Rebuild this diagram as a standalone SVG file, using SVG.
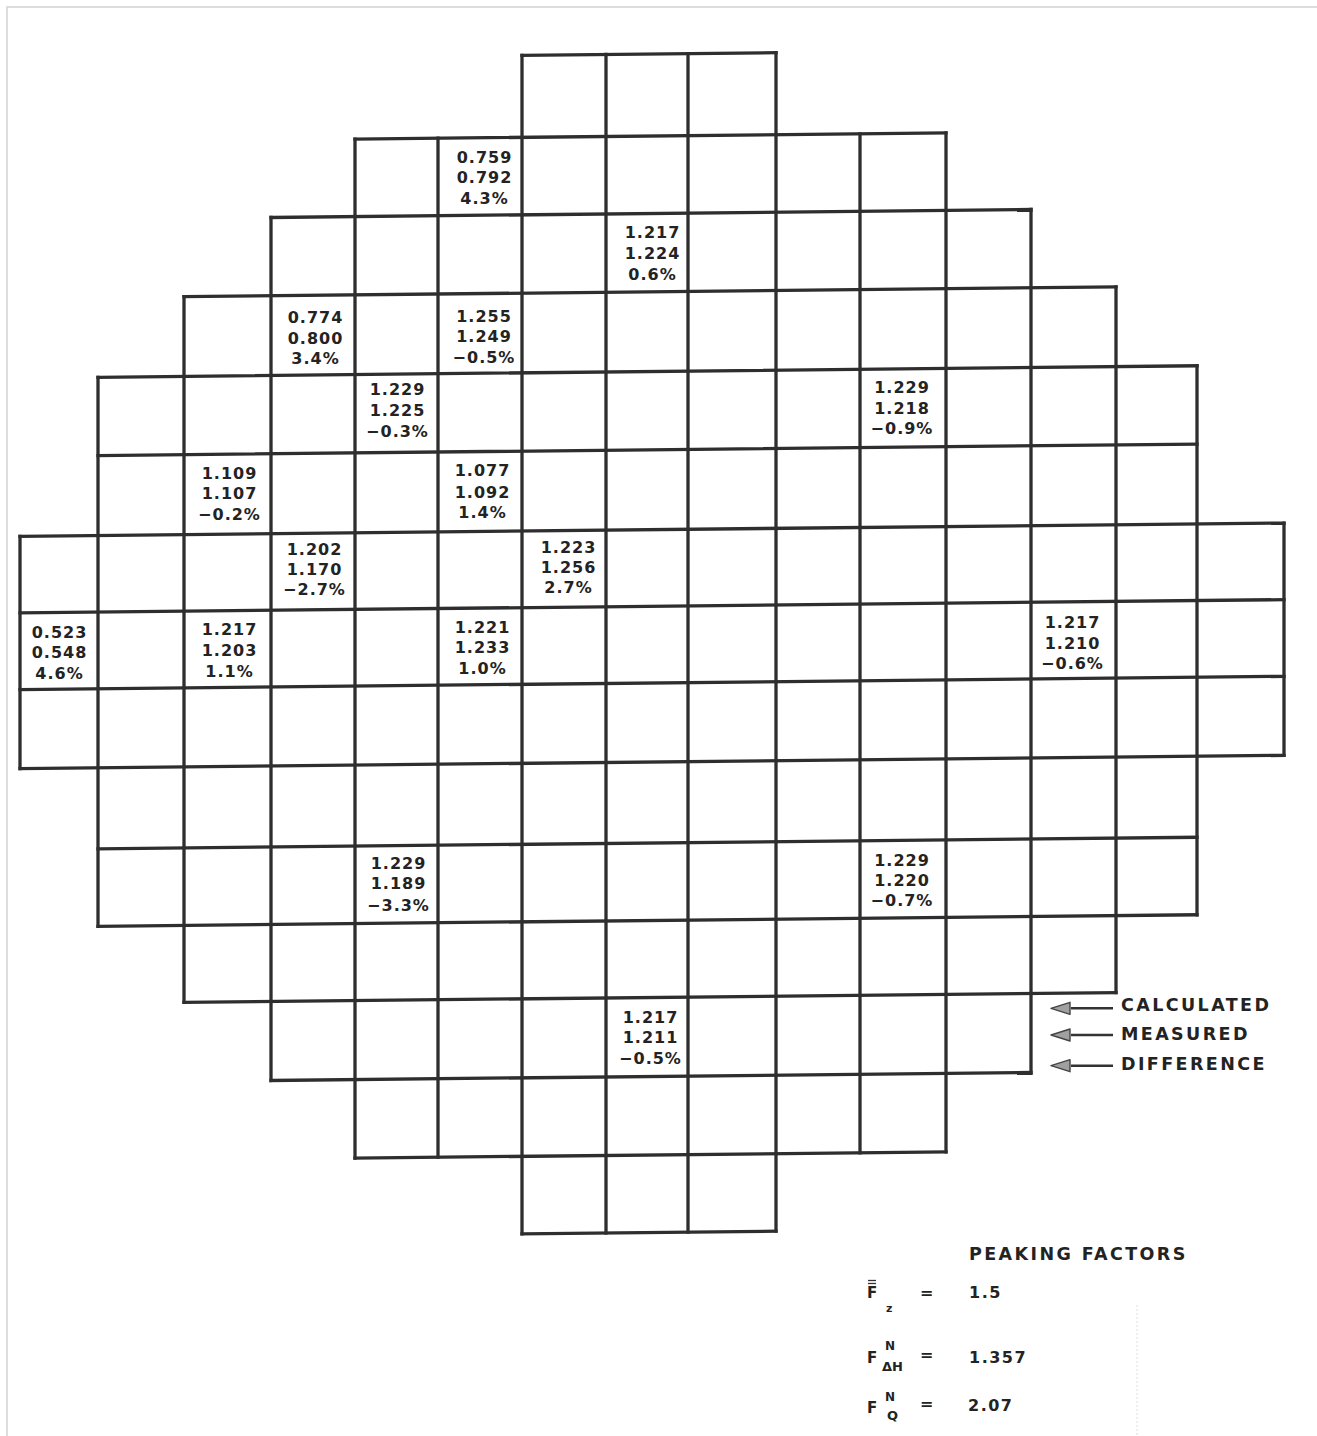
<svg xmlns="http://www.w3.org/2000/svg" width="1317" height="1436" viewBox="0 0 1317 1436">
<style>
.bg{fill:#ffffff}
.frame{fill:none;stroke:#d2d2d2;stroke-width:1.5}
.grid line{stroke:#2e2e2e;stroke-width:3.3;stroke-linecap:square}
.v{font-family:"DejaVu Sans","Liberation Sans",sans-serif;font-weight:bold;font-size:16px;fill:#232323;text-anchor:middle;letter-spacing:1px}
.lg{font-family:"DejaVu Sans","Liberation Sans",sans-serif;font-weight:bold;font-size:17.5px;fill:#232323;letter-spacing:2.4px}
.pf{font-family:"DejaVu Sans","Liberation Sans",sans-serif;font-weight:bold;fill:#232323}
.arr{stroke:#333;stroke-width:2.5;fill:none}
</style>
<defs>
<marker id="ah" viewBox="0 0 24 16" refX="2" refY="8" markerWidth="24" markerHeight="16" markerUnits="userSpaceOnUse" orient="auto">
<path d="M22,8 L3,2 V14 Z" fill="#a0a0a0" stroke="#444" stroke-width="1.4" stroke-linejoin="round"/>
</marker>
</defs>
<rect class="bg" x="0" y="0" width="1317" height="1436"/>
<path class="frame" d="M7,1436 V7 H1317"/>
<line x1="1137" y1="1305" x2="1137" y2="1436" stroke="#dcdcdc" stroke-width="1" stroke-dasharray="2 2"/>

<g id="grid" class="grid" transform="matrix(1,-0.0105,0,1,0,6.825)">
<line x1="522" y1="54" x2="776" y2="54"/>
<line x1="355" y1="136" x2="946" y2="136"/>
<line x1="271" y1="213.5" x2="1031" y2="213.5"/>
<line x1="184" y1="291.8" x2="1116" y2="291.8"/>
<line x1="98" y1="371.5" x2="1197" y2="371.5"/>
<line x1="98" y1="449.8" x2="1197" y2="449.8"/>
<line x1="20" y1="529.7" x2="1284" y2="529.7"/>
<line x1="20" y1="606.3" x2="1284" y2="606.3"/>
<line x1="20" y1="683" x2="1284" y2="683"/>
<line x1="20" y1="762" x2="1284" y2="762"/>
<line x1="98" y1="843" x2="1197" y2="843"/>
<line x1="98" y1="920.5" x2="1197" y2="920.5"/>
<line x1="184" y1="997.5" x2="1116" y2="997.5"/>
<line x1="271" y1="1076.5" x2="1031" y2="1076.5"/>
<line x1="355" y1="1155" x2="946" y2="1155"/>
<line x1="522" y1="1232.5" x2="776" y2="1232.5"/>
<line x1="20" y1="529.7" x2="20" y2="762"/>
<line x1="98" y1="371.5" x2="98" y2="920.5"/>
<line x1="184" y1="291.8" x2="184" y2="997.5"/>
<line x1="271" y1="213.5" x2="271" y2="1076.5"/>
<line x1="355" y1="136" x2="355" y2="1155"/>
<line x1="438" y1="136" x2="438" y2="1155"/>
<line x1="522" y1="54" x2="522" y2="1232.5"/>
<line x1="606" y1="54" x2="606" y2="1232.5"/>
<line x1="688" y1="54" x2="688" y2="1232.5"/>
<line x1="776" y1="54" x2="776" y2="1232.5"/>
<line x1="860" y1="136" x2="860" y2="1155"/>
<line x1="946" y1="136" x2="946" y2="1155"/>
<line x1="1031" y1="213.5" x2="1031" y2="1076.5"/>
<line x1="1116" y1="291.8" x2="1116" y2="997.5"/>
<line x1="1197" y1="371.5" x2="1197" y2="920.5"/>
<line x1="1284" y1="529.7" x2="1284" y2="762"/>
</g>

<g id="cell-r1-c5"><text class="v" x="484.5" y="162.7">0.759</text><text class="v" x="484.5" y="183.3">0.792</text><text class="v" x="484.5" y="204.3">4.3%</text></g>
<g id="cell-r2-c7"><text class="v" x="652.5" y="237.7">1.217</text><text class="v" x="652.5" y="259.3">1.224</text><text class="v" x="652.5" y="280.3">0.6%</text></g>
<g id="cell-r3-c3"><text class="v" x="315.5" y="322.7">0.774</text><text class="v" x="315.5" y="343.5">0.800</text><text class="v" x="315.5" y="364.3">3.4%</text></g>
<g id="cell-r3-c5"><text class="v" x="484" y="322">1.255</text><text class="v" x="484" y="342.3">1.249</text><text class="v" x="484" y="362.7">−0.5%</text></g>
<g id="cell-r4-c4"><text class="v" x="397.5" y="395.3">1.229</text><text class="v" x="397.5" y="416">1.225</text><text class="v" x="397.5" y="436.7">−0.3%</text></g>
<g id="cell-r4-c10"><text class="v" x="902" y="392.7">1.229</text><text class="v" x="902" y="414.3">1.218</text><text class="v" x="902" y="434.3">−0.9%</text></g>
<g id="cell-r5-c2"><text class="v" x="229.5" y="478.7">1.109</text><text class="v" x="229.5" y="499.3">1.107</text><text class="v" x="229.5" y="520">−0.2%</text></g>
<g id="cell-r5-c5"><text class="v" x="482.5" y="476">1.077</text><text class="v" x="482.5" y="497.7">1.092</text><text class="v" x="482.5" y="518.3">1.4%</text></g>
<g id="cell-r6-c3"><text class="v" x="314.5" y="555">1.202</text><text class="v" x="314.5" y="575">1.170</text><text class="v" x="314.5" y="595.3">−2.7%</text></g>
<g id="cell-r6-c6"><text class="v" x="568.5" y="552.7">1.223</text><text class="v" x="568.5" y="572.7">1.256</text><text class="v" x="568.5" y="593.3">2.7%</text></g>
<g id="cell-r7-c0"><text class="v" x="59.5" y="637.7">0.523</text><text class="v" x="59.5" y="658.3">0.548</text><text class="v" x="59.5" y="679.3">4.6%</text></g>
<g id="cell-r7-c2"><text class="v" x="229.5" y="635.3">1.217</text><text class="v" x="229.5" y="656">1.203</text><text class="v" x="229.5" y="676.7">1.1%</text></g>
<g id="cell-r7-c5"><text class="v" x="482.5" y="632.7">1.221</text><text class="v" x="482.5" y="653.3">1.233</text><text class="v" x="482.5" y="674.3">1.0%</text></g>
<g id="cell-r7-c12"><text class="v" x="1072.5" y="627.7">1.217</text><text class="v" x="1072.5" y="648.7">1.210</text><text class="v" x="1072.5" y="669.3">−0.6%</text></g>
<g id="cell-r10-c4"><text class="v" x="398.5" y="869.3">1.229</text><text class="v" x="398.5" y="889.3">1.189</text><text class="v" x="398.5" y="911">−3.3%</text></g>
<g id="cell-r10-c10"><text class="v" x="902" y="866">1.229</text><text class="v" x="902" y="886">1.220</text><text class="v" x="902" y="906">−0.7%</text></g>
<g id="cell-r12-c7"><text class="v" x="650.5" y="1022.7">1.217</text><text class="v" x="650.5" y="1043.3">1.211</text><text class="v" x="650.5" y="1064.3">−0.5%</text></g>

<g id="connectors">
<line class="arr" x1="1113" y1="1008.3" x2="1071" y2="1008.3" marker-end="url(#ah)"/>
<line class="arr" x1="1113" y1="1035" x2="1071" y2="1035" marker-end="url(#ah)"/>
<line class="arr" x1="1113" y1="1065.7" x2="1071" y2="1065.7" marker-end="url(#ah)"/>
</g>
<g id="legend">
<text class="lg" x="1121" y="1011.3">CALCULATED</text>
<text class="lg" x="1121" y="1039.6">MEASURED</text>
<text class="lg" x="1121" y="1069.6">DIFFERENCE</text>
</g>

<g id="peaking-factors">
<text class="lg" x="969" y="1259.6">PEAKING FACTORS</text>
<text class="pf" x="867" y="1298.3" font-size="15">F</text>
<line x1="868" y1="1280.5" x2="876" y2="1280.5" stroke="#333" stroke-width="1.3"/>
<line x1="868" y1="1283.5" x2="876" y2="1283.5" stroke="#333" stroke-width="1.3"/>
<text class="pf" x="886" y="1311.5" font-size="11">z</text>
<text class="pf" x="920" y="1298.4" font-size="16">=</text>
<text class="pf" x="969" y="1298.3" font-size="16" letter-spacing="1.5">1.5</text>
<text class="pf" x="867" y="1362.5" font-size="15">F</text>
<text class="pf" x="885" y="1349.8" font-size="12">N</text>
<text class="pf" x="882" y="1371.3" font-size="13">ΔH</text>
<text class="pf" x="920" y="1360.4" font-size="16">=</text>
<text class="pf" x="969" y="1362.5" font-size="16" letter-spacing="1.5">1.357</text>
<text class="pf" x="867" y="1412.5" font-size="15">F</text>
<text class="pf" x="885" y="1401" font-size="12">N</text>
<text class="pf" x="887" y="1420" font-size="13">Q</text>
<text class="pf" x="920" y="1408.7" font-size="16">=</text>
<text class="pf" x="968" y="1411" font-size="16" letter-spacing="1.5">2.07</text>
</g>
</svg>
